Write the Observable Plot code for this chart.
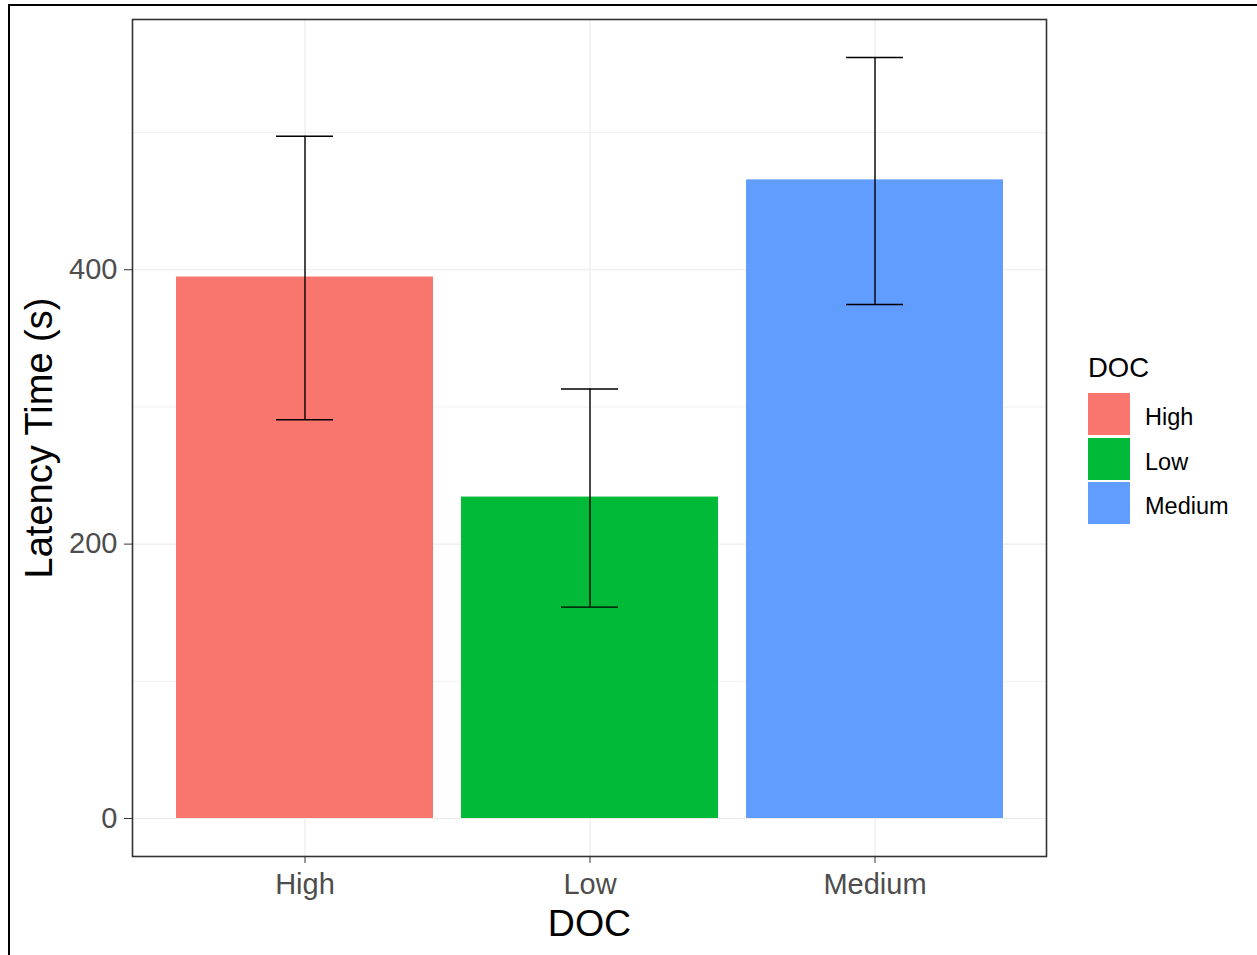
<!DOCTYPE html>
<html>
<head>
<meta charset="utf-8">
<script src="https://cdn.jsdelivr.net/npm/d3@7"></script>
<script src="https://cdn.jsdelivr.net/npm/@observablehq/plot@0.6"></script>
<style>
  html, body { margin: 0; padding: 0; background: #fff; }
  #wrap { position: relative; width: 1257px; height: 955px; overflow: hidden; font-family: "Liberation Sans", Arial, sans-serif; }
  #outer { position: absolute; left: 8px; top: 4px; right: -10px; bottom: -10px; border-left: 2px solid #000; border-top: 2px solid #000; pointer-events: none; }
  #chart { position: absolute; left: 0; top: 0; }
  .leg { position: absolute; color: #000; white-space: nowrap; line-height: 1; }
  .key { position: absolute; width: 42px; height: 42px; }
</style>
</head>
<body>
<div id="wrap">
  <div id="chart"></div>
  <div id="legend"></div>
  <div id="outer"></div>
</div>
<script>
// Data
const categories = ["High", "Low", "Medium"];
const means = [394.7, 234.3, 465.5];
const lower = [290.6, 154.1, 374.7];
const upper = [497.3, 313.1, 554.7];
const colors = ["#F8766D", "#00BA38", "#619CFF"];
const majorTicks = [0, 200, 400];
const minorTicks = [100, 300, 500];
const xTitle = "DOC";
const yTitle = "Latency Time (s)";
const legendTitle = "DOC";

const rows = categories.map((c, i) => ({DOC: c, mean: means[i], lo: lower[i], hi: upper[i]}));

const font = "'Liberation Sans', Arial, sans-serif";

const chart = Plot.plot({
  width: 1257,
  height: 955,
  marginLeft: 132,
  marginRight: 211,
  marginTop: 19,
  marginBottom: 99,
  style: {fontFamily: font, background: "white", overflow: "visible"},
  x: {domain: categories, paddingInner: 0.1, paddingOuter: 0.15, axis: null},
  y: {domain: [-27.7, 582.4], axis: null},
  color: {domain: categories, range: colors},
  marks: [
    Plot.gridY(minorTicks, {stroke: "#EBEBEB", strokeOpacity: 1, strokeWidth: 0.7}),
    Plot.gridY(majorTicks, {stroke: "#EBEBEB", strokeOpacity: 1, strokeWidth: 1.2}),
    Plot.gridX(categories, {stroke: "#EBEBEB", strokeOpacity: 1, strokeWidth: 1.2}),
    Plot.barY(rows, {x: "DOC", y: "mean", fill: "DOC"}),
    Plot.ruleX(rows, {x: "DOC", y1: "lo", y2: "hi", stroke: "#000", strokeWidth: 1.4}),
    Plot.tickY(rows, {x: "DOC", y: "hi", stroke: "#000", strokeWidth: 1.4, insetLeft: 100, insetRight: 100}),
    Plot.tickY(rows, {x: "DOC", y: "lo", stroke: "#000", strokeWidth: 1.4, insetLeft: 100, insetRight: 100}),
    Plot.frame({stroke: "#333333", strokeWidth: 1.6}),
    Plot.axisY(majorTicks, {anchor: "left", tickSize: 8, tickPadding: 7, fontSize: 29, stroke: "#333333", fill: "#4D4D4D", label: null}),
    Plot.axisX(categories, {anchor: "bottom", tickSize: 7, tickPadding: 10, fontSize: 29, stroke: "#333333", fill: "#4D4D4D", label: null}),
    Plot.text([xTitle], {text: d => d, frameAnchor: "bottom", textAnchor: "middle", lineAnchor: "middle", dy: 67.5, fontSize: 37.5, fill: "#000"}),
    Plot.text([yTitle], {text: d => d, frameAnchor: "left", textAnchor: "middle", lineAnchor: "middle", dx: -92.5, rotate: -90, fontSize: 38, fill: "#000"})
  ]
});
document.getElementById("chart").appendChild(chart);

// Legend (built from the same arrays)
const leg = document.getElementById("legend");
const t = document.createElement("div");
t.className = "leg";
t.style.left = "1088px";
t.style.top = (377 - 0.8465 * 27.5) + "px";
t.style.fontSize = "27.5px";
t.textContent = legendTitle;
leg.appendChild(t);
categories.forEach((c, i) => {
  const k = document.createElement("div");
  k.className = "key";
  k.style.left = "1088px";
  k.style.top = (393 + i * 44.5) + "px";
  k.style.background = colors[i];
  leg.appendChild(k);
  const l = document.createElement("div");
  l.className = "leg";
  l.style.left = "1145px";
  l.style.fontSize = "23.5px";
  l.style.top = (426 + i * 44.5 - 0.8465 * 23.5) + "px";
  l.textContent = c;
  leg.appendChild(l);
});
</script>
</body>
</html>
